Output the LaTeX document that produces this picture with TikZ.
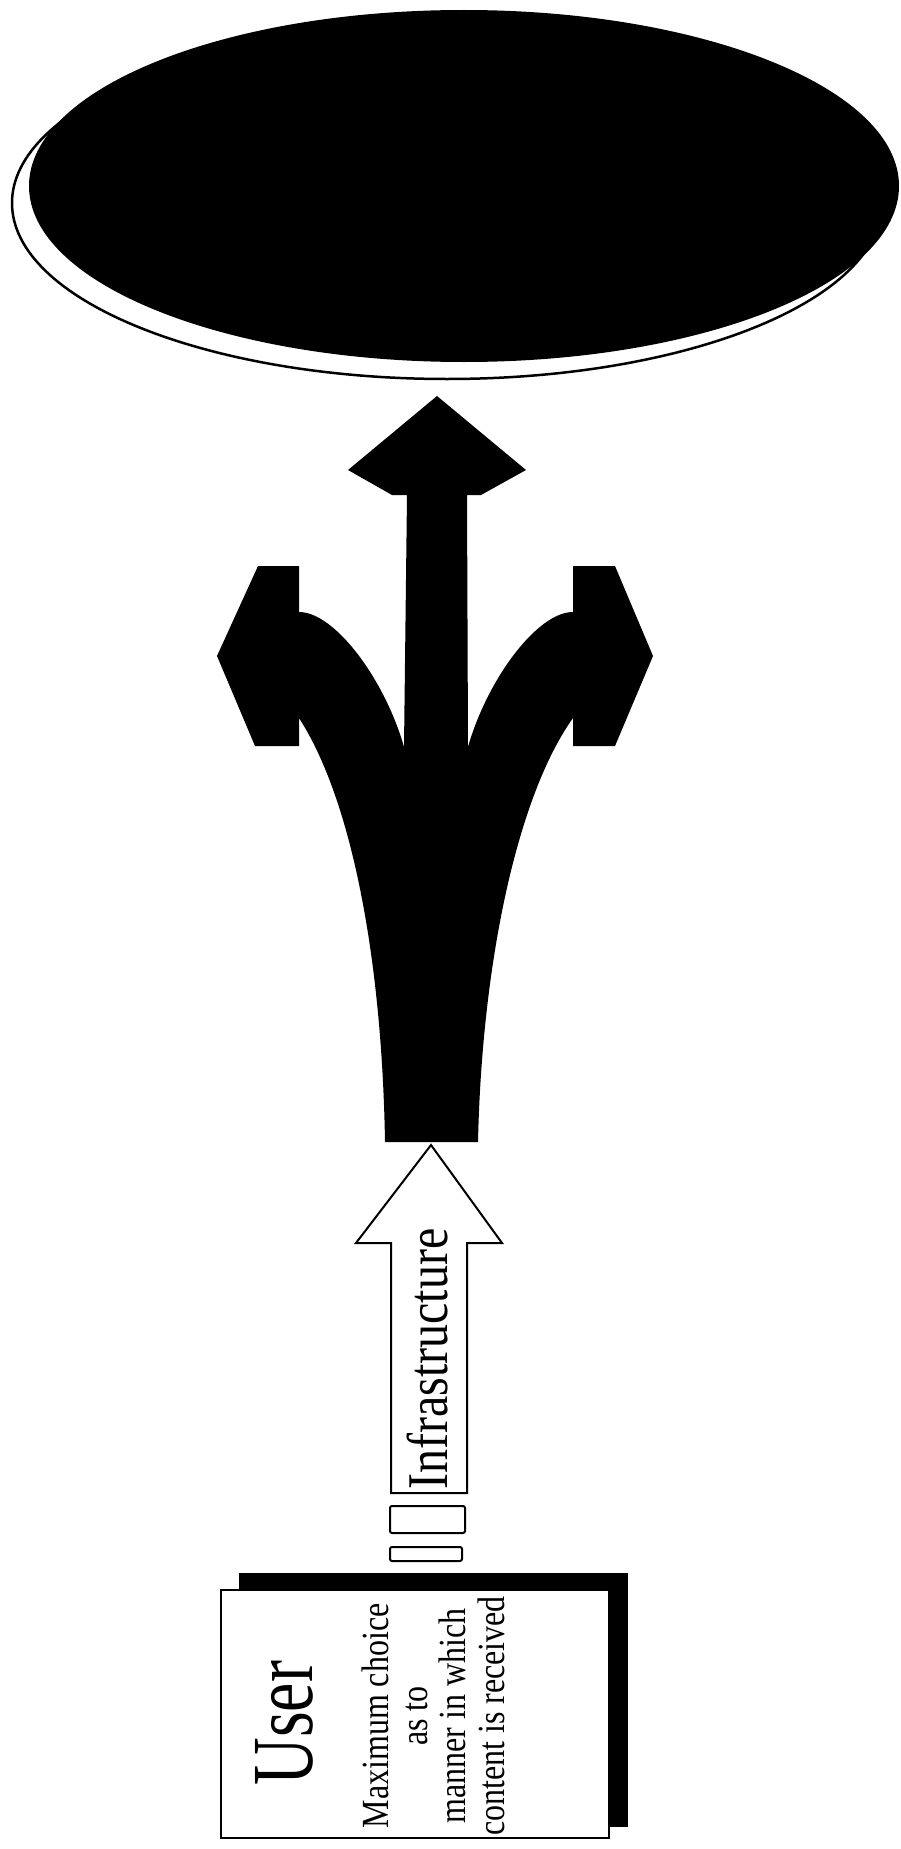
\documentclass[tikz,border=0pt]{standalone}
\usepackage{fontspec}
\setmainfont{Liberation Serif}
\usetikzlibrary{positioning,shapes.geometric}

\begin{document}
\begin{tikzpicture}[
    x=1pt, y=-1pt,
    outline/.style={draw=black, line width=2.2pt, fill=white},
    disc/.style={ellipse, minimum width=870pt, minimum height=352pt, inner sep=0pt},
    vtext/.style={rotate=90, yscale=1.2, inner sep=0pt, font=#1}
]
\useasboundingbox (0,0) rectangle (900,1849);

% Content ellipse
\node[disc, outline, line width=2.5pt] (rim) at (447,203) {};
\node[disc, fill=black] (content) at (464,186) {};

% Fork
\fill (385,1142)
  .. controls (382,960) and (352,800) .. (299,718)
  -- (299,746) -- (255,746) -- (217,656) -- (258,566) -- (299,566) -- (299,612)
  .. controls (335,612) and (385,680) .. (404,747)
  -- (407,495) -- (392,495) -- (348,470) -- (437,396) -- (526,470) -- (481,495) -- (467,495)
  -- (468,747)
  .. controls (487,680) and (537,612) .. (573,612)
  -- (573,566) -- (615,566) -- (653,656) -- (615,746) -- (573,746) -- (573,718)
  .. controls (518,795) and (482,960) .. (478,1142) -- cycle;

% Infrastructure arrow
\draw[outline, line width=2pt, line join=miter]
  (391,1493) -- (391,1243) -- (356,1243) -- (431,1145) -- (502,1243)
  -- (467,1243) -- (467,1493) -- cycle;
\draw[outline, line width=2pt, rounded corners=2pt] (390,1506) rectangle (465,1533);
\draw[outline, line width=2pt, rounded corners=2pt] (390,1547) rectangle (462,1561);

% User box
\fill (239,1573) rectangle (628,1827);
\draw[outline, line width=2pt] (221,1590) rectangle (609,1838);

% Labels
\node[vtext={\fontsize{48}{48}\selectfont}, anchor=base west] (infra) at (447,1490) {Infrastructure};
\node[vtext={\fontsize{66}{66}\selectfont}, yscale=1.1, anchor=base] (user) at (312,1723) {User};
\node[vtext={\fontsize{32}{32}\selectfont}, align=center, anchor=north] (choice) at (362,1716)
  {Maximum choice\\as to\\manner in which\\content is received};

\end{tikzpicture}
\end{document}
